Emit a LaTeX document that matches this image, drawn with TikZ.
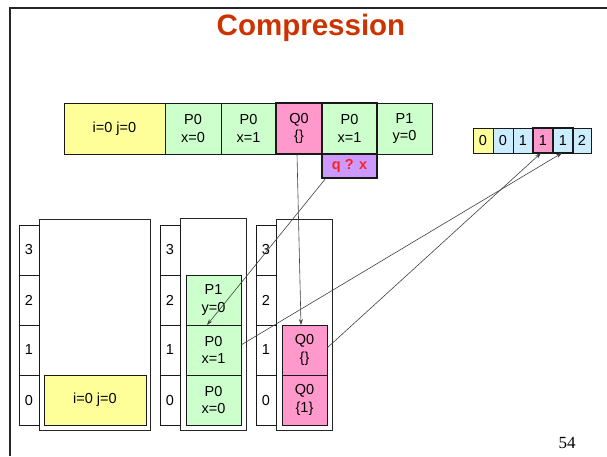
\documentclass[tikz,border=0pt]{standalone}
\usepackage{fontspec}
\setmainfont{Liberation Sans}
\newfontfamily\pagenumfont{Liberation Serif}
\usetikzlibrary{arrows.meta}
\definecolor{cyel}{HTML}{FFFF99}
\definecolor{cgreen}{HTML}{CCFFCC}
\definecolor{cpink}{HTML}{FF99CC}
\definecolor{cblue}{HTML}{CCECFF}
\definecolor{cpurple}{HTML}{CC99FF}
\definecolor{ctitle}{HTML}{CC3300}
\definecolor{cred}{HTML}{FF2020}
\begin{document}
\begin{tikzpicture}[x=1pt,y=-1pt,
  cell/.style={draw=black!90, line width=0.8pt, inner sep=0pt, outer sep=0pt,
    align=center, font=\fontsize{14.5}{17.5}\selectfont},
  thick cell/.style={cell, line width=1.8pt},
  idx/.style={cell, minimum width=20pt, minimum height=50pt},
  frame/.style={draw=black!85, line width=0.8pt, fill=white, inner sep=0pt, outer sep=0pt},
  link/.style={draw=black!75, line width=0.6pt, -{Stealth[length=6pt,width=4pt]}}]
\useasboundingbox (0,0) rectangle (607,456);

% slide border
\draw[black!85, line width=2pt] (10,456) -- (10,8) -- (607,8);

% title and page number
\node[font=\fontsize{29.5}{32}\selectfont\bfseries, text=ctitle] (title) at (311,28) {Compression};
\node[font=\pagenumfont\fontsize{17}{20}\selectfont] (pnum) at (567,443) {54};

% top row of states
\node[cell, fill=cyel,   minimum width=101pt, minimum height=51pt] (t0) at (114.5,128.5) {i=0 j=0};
\node[cell, fill=cgreen, minimum width=56pt,  minimum height=51pt] (t1) at (193,128.5) {P0\\x=0};
\node[cell, fill=cgreen, minimum width=55pt,  minimum height=51pt] (t2) at (248.5,128.5) {P0\\x=1};
\node[cell, fill=cgreen, minimum width=55pt,  minimum height=51pt] (t5) at (404.5,128.5) {P1\\y=0};
\node[thick cell, fill=cpink,  minimum width=46pt, minimum height=51pt] (t3) at (299,128.5) {Q0\\\{\}};
\node[thick cell, fill=cgreen, minimum width=55pt, minimum height=51pt] (t4) at (349.5,128.5) {P0\\x=1};
\node[thick cell, fill=cpurple, minimum width=55pt, minimum height=24pt,
      font=\fontsize{14.5}{16}\selectfont\bfseries, text=cred] (qx) at (349.5,166) {q ? x};

% counter array
\node[cell, fill=cyel,  minimum width=20pt, minimum height=25pt] (a0) at (483,140.5) {0};
\node[cell, fill=cblue, minimum width=20pt, minimum height=25pt] (a1) at (503,140.5) {0};
\node[cell, fill=cblue, minimum width=20pt, minimum height=25pt] (a2) at (523,140.5) {1};
\node[cell, fill=cblue, minimum width=18pt, minimum height=25pt] (a5) at (582,140.5) {2};
\node[thick cell, fill=cpink, minimum width=20pt, minimum height=25pt] (a3) at (543,140.5) {1};
\node[thick cell, fill=cblue, minimum width=20pt, minimum height=25pt] (a4) at (563,140.5) {1};

% stack 1
\node[frame, minimum width=111pt, minimum height=211pt] (f1) at (94.5,324.5) {};
\node[idx] (i13) at (29,250) {3};
\node[idx] (i12) at (29,300) {2};
\node[idx] (i11) at (29,350) {1};
\node[idx] (i10) at (29,400) {0};
\node[cell, fill=cyel, minimum width=102pt, minimum height=50pt] (s1r0) at (95,400) {i=0 j=0};

% stack 2
\node[frame, minimum width=66pt, minimum height=212pt] (f2) at (213,324) {};
\node[idx] (i23) at (170,250) {3};
\node[idx] (i22) at (170,300) {2};
\node[idx] (i21) at (170,350) {1};
\node[idx] (i20) at (170,400) {0};
\node[cell, fill=cgreen, minimum width=55pt, minimum height=50pt] (s2r0) at (213.5,400) {P0\\x=0};
\node[cell, fill=cgreen, minimum width=55pt, minimum height=50pt] (s2r1) at (213.5,350) {P0\\x=1};
\node[cell, fill=cgreen, minimum width=55pt, minimum height=50pt] (s2r2) at (213.5,300) {P1\\y=0};

% stack 3
\node[frame, minimum width=56pt, minimum height=211pt] (f3) at (304,324.5) {};
\node[idx] (i33) at (266,250) {3};
\node[idx] (i32) at (266,300) {2};
\node[idx] (i31) at (266,350) {1};
\node[idx] (i30) at (266,400) {0};
\node[cell, fill=cpink, minimum width=45pt, minimum height=50pt] (s3r0) at (304.5,400) {Q0\\\{1\}};
\node[cell, fill=cpink, minimum width=45pt, minimum height=50pt] (s3r1) at (304.5,350) {Q0\\\{\}};

% links
\draw[link] ([xshift=-2pt]t3.south) -- ([xshift=-3.5pt]s3r1.north);
\draw[link] ([xshift=4pt]qx.south west) -- ([xshift=-6.5pt]s2r1.north);
\draw[link] ([yshift=5pt]s2r1.east) -- ([xshift=-1pt]a4.south);
\draw[link] ([yshift=2pt]s3r1.east) -- ([xshift=-2pt]a3.south);
\end{tikzpicture}
\end{document}
